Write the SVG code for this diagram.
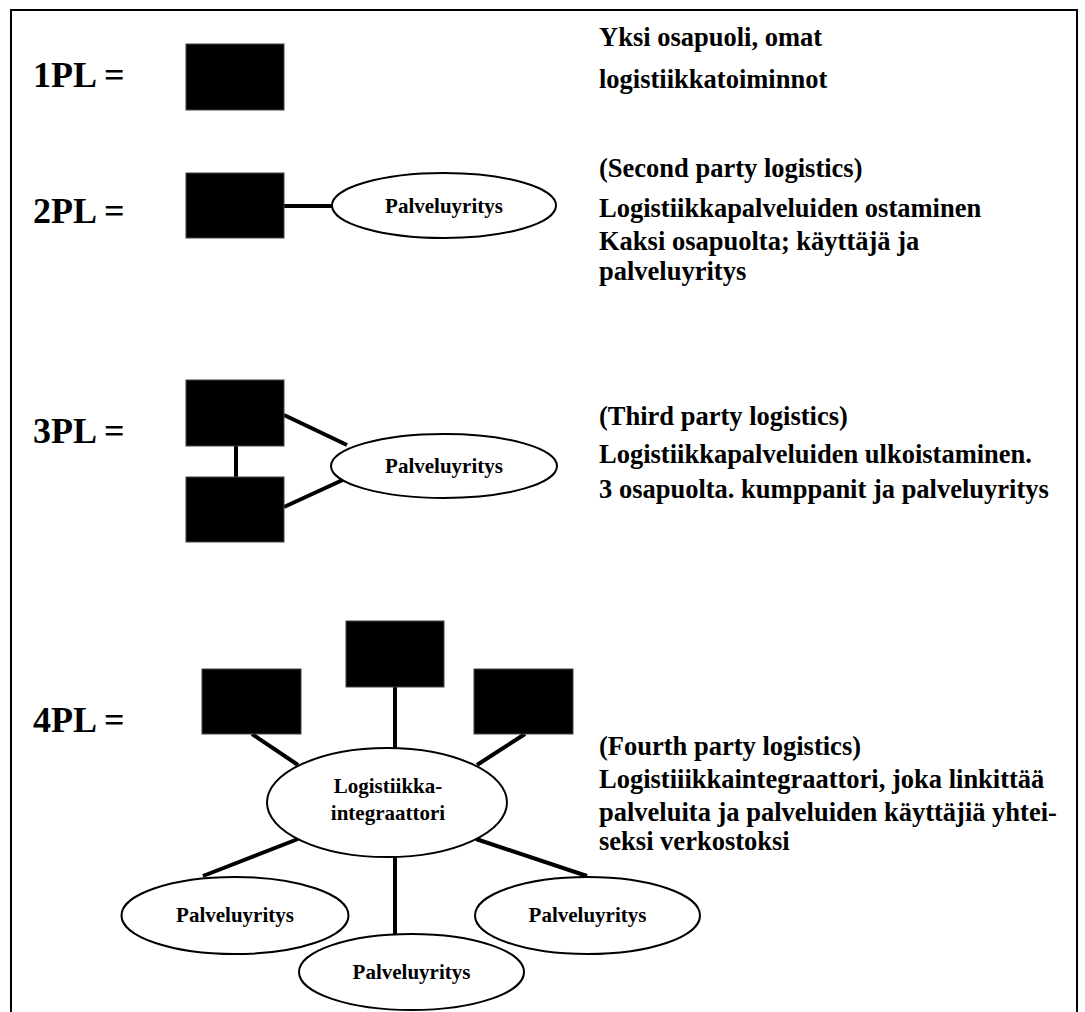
<svg xmlns="http://www.w3.org/2000/svg" width="1085" height="1012" viewBox="0 0 1085 1012">
  <style>
    .frame { fill: none; stroke: #000; stroke-width: 2; }
    .party { fill: #000; stroke: #444; stroke-width: 1; }
    .svc { fill: #fff; stroke: #000; stroke-width: 2; }
    .link { stroke: #000; stroke-width: 4; fill: none; }
    text { font-family: "Liberation Serif", "Times New Roman", serif; font-weight: bold; fill: #000; }
    .lvl { font-size: 36px; }
    .desc { font-size: 26.5px; }
    .svc-label { font-size: 21px; text-anchor: middle; }
  </style>

  <rect class="frame" x="11" y="10" width="1066" height="1012"/>

  <!-- level labels -->
  <g id="labels">
    <text class="lvl" x="33" y="87">1PL =</text>
    <text class="lvl" x="33" y="223">2PL =</text>
    <text class="lvl" x="33" y="443">3PL =</text>
    <text class="lvl" x="33" y="732">4PL =</text>
  </g>

  <!-- descriptions -->
  <g id="desc-1pl">
    <text class="desc" x="599" y="46">Yksi osapuoli, omat</text>
    <text class="desc" x="599" y="88">logistiikkatoiminnot</text>
  </g>
  <g id="desc-2pl">
    <text class="desc" x="599" y="177">(Second party logistics)</text>
    <text class="desc" x="599" y="217">Logistiikkapalveluiden ostaminen</text>
    <text class="desc" x="599" y="250">Kaksi osapuolta; käyttäjä ja</text>
    <text class="desc" x="599" y="280">palveluyritys</text>
  </g>
  <g id="desc-3pl">
    <text class="desc" x="599" y="425">(Third party logistics)</text>
    <text class="desc" x="599" y="463">Logistiikkapalveluiden ulkoistaminen.</text>
    <text class="desc" x="599" y="498">3 osapuolta. kumppanit ja palveluyritys</text>
  </g>
  <g id="desc-4pl">
    <text class="desc" x="599" y="755">(Fourth party logistics)</text>
    <text class="desc" x="599" y="788">Logistiiikkaintegraattori, joka linkittää</text>
    <text class="desc" x="599" y="821">palveluita ja palveluiden käyttäjiä yhtei-</text>
    <text class="desc" x="599" y="850">seksi verkostoksi</text>
  </g>

  <!-- connectors -->
  <g id="connectors">
    <line class="link" x1="284" y1="206" x2="332" y2="206"/>
    <line class="link" x1="236" y1="446" x2="236" y2="477"/>
    <line class="link" x1="284" y1="415" x2="347" y2="445"/>
    <line class="link" x1="284" y1="507" x2="347" y2="478"/>
    <line class="link" x1="252" y1="734" x2="298" y2="765"/>
    <line class="link" x1="395" y1="687" x2="395" y2="748"/>
    <line class="link" x1="525" y1="734" x2="477" y2="765"/>
    <line class="link" x1="298" y1="839" x2="203" y2="876"/>
    <line class="link" x1="476" y1="839" x2="587" y2="876"/>
    <line class="link" x1="395" y1="857" x2="395" y2="934"/>
  </g>

  <!-- 1PL -->
  <g id="p1-party"><rect class="party" x="186" y="44" width="98" height="66"/></g>

  <!-- 2PL -->
  <g id="p2-party"><rect class="party" x="186" y="173" width="98" height="65"/></g>
  <g id="p2-service">
    <ellipse class="svc" cx="444" cy="205.5" rx="112" ry="32.5"/>
    <text class="svc-label" x="444" y="212.5">Palveluyritys</text>
  </g>

  <!-- 3PL -->
  <g id="p3-party-a"><rect class="party" x="186" y="380" width="98" height="66"/></g>
  <g id="p3-party-b"><rect class="party" x="186" y="477" width="98" height="65"/></g>
  <g id="p3-service">
    <ellipse class="svc" cx="444" cy="466" rx="113" ry="32"/>
    <text class="svc-label" x="444" y="473">Palveluyritys</text>
  </g>

  <!-- 4PL -->
  <g id="p4-party-left"><rect class="party" x="202" y="669" width="99" height="65"/></g>
  <g id="p4-party-mid"><rect class="party" x="346" y="621" width="98" height="66"/></g>
  <g id="p4-party-right"><rect class="party" x="474" y="669" width="99" height="65"/></g>
  <g id="p4-integrator">
    <ellipse class="svc" cx="387" cy="802.5" rx="120" ry="54.5"/>
    <text class="svc-label" x="388" y="793">Logistiikka-</text>
    <text class="svc-label" x="388" y="820">integraattori</text>
  </g>
  <g id="p4-service-left">
    <ellipse class="svc" cx="235" cy="915.5" rx="113.5" ry="38.5"/>
    <text class="svc-label" x="235" y="922">Palveluyritys</text>
  </g>
  <g id="p4-service-right">
    <ellipse class="svc" cx="587.5" cy="915.5" rx="112.5" ry="38.5"/>
    <text class="svc-label" x="587.5" y="922">Palveluyritys</text>
  </g>
  <g id="p4-service-mid">
    <ellipse class="svc" cx="411.5" cy="972" rx="112.5" ry="38"/>
    <text class="svc-label" x="411.5" y="978.5">Palveluyritys</text>
  </g>
</svg>
